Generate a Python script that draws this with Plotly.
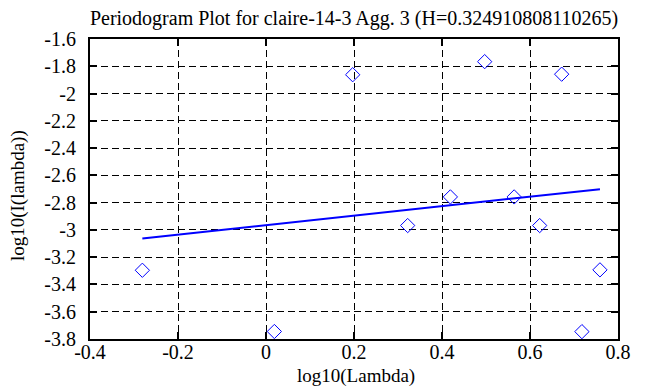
import plotly.graph_objects as go

# Periodogram points (log10 lambda, log10 I(lambda))
log_lambda = [-0.281, 0.019, 0.197, 0.322, 0.419, 0.497, 0.564, 0.622, 0.672, 0.718, 0.759]
log_I = [-3.296, -3.745, -1.862, -2.968, -2.758, -1.766, -2.758, -2.968, -1.858, -3.746, -3.293]

# Fitted regression line endpoints
fit_x = [-0.281, 0.759]
fit_y = [-3.063, -2.701]

x_tick_vals = [-0.4, -0.2, 0, 0.2, 0.4, 0.6, 0.8]
x_tick_text = ["-0.4", "-0.2", "0", "0.2", "0.4", "0.6", "0.8"]
y_tick_vals = [-1.6, -1.8, -2.0, -2.2, -2.4, -2.6, -2.8, -3.0, -3.2, -3.4, -3.6, -3.8]
y_tick_text = ["-1.6", "-1.8", "-2", "-2.2", "-2.4", "-2.6", "-2.8", "-3", "-3.2", "-3.4", "-3.6", "-3.8"]

FONT = "Liberation Serif, Times New Roman, DejaVu Serif, serif"

fig = go.Figure()
fig.add_trace(go.Scatter(
    x=log_lambda, y=log_I, mode="markers",
    marker=dict(symbol="diamond-open", size=11, color="#0000ff", line=dict(width=1, color="#0000ff")),
    showlegend=False, cliponaxis=False,
))
fig.add_trace(go.Scatter(
    x=fit_x, y=fit_y, mode="lines",
    line=dict(color="#0000ff", width=2),
    showlegend=False,
))

axis_common = dict(
    showline=True, linecolor="black", linewidth=2, mirror="ticks",
    ticks="inside", ticklen=7, tickwidth=1.5, tickcolor="black",
    showgrid=True, gridcolor="black", gridwidth=1, griddash="7px,4px",
    zeroline=False, tickfont=dict(family=FONT, size=20, color="black"),
)

fig.update_xaxes(
    range=[-0.4, 0.8], tickmode="array", tickvals=x_tick_vals, ticktext=x_tick_text,
    ticklabelstandoff=-6,
    **axis_common,
)
fig.update_yaxes(
    range=[-3.8, -1.6], tickmode="array", tickvals=y_tick_vals, ticktext=y_tick_text,
    ticklabelstandoff=8,
    **axis_common,
)

title_font = dict(family=FONT, size=19, color="black")
fig.add_annotation(text="log10(Lambda)", xref="paper", yref="paper", x=0.504, y=-0.122,
                   xanchor="center", yanchor="middle", showarrow=False, font=title_font)
fig.add_annotation(text="log10(I(lambda))", xref="paper", yref="paper", x=-0.136, y=0.477,
                   xanchor="center", yanchor="middle", showarrow=False, textangle=-90, font=title_font)

fig.update_layout(
    width=658, height=387,
    margin=dict(l=82, r=48, t=31, b=56, autoexpand=False),
    plot_bgcolor="white", paper_bgcolor="white",
    title=dict(text="Periodogram Plot for claire-14-3 Agg. 3 (H=0.324910808110265)",
               font=dict(family=FONT, size=20, color="black"),
               x=0.5, xref="paper", xanchor="center", y=1 - 10 / 387, yref="container", yanchor="middle"),
)

fig.write_html("out.html")
